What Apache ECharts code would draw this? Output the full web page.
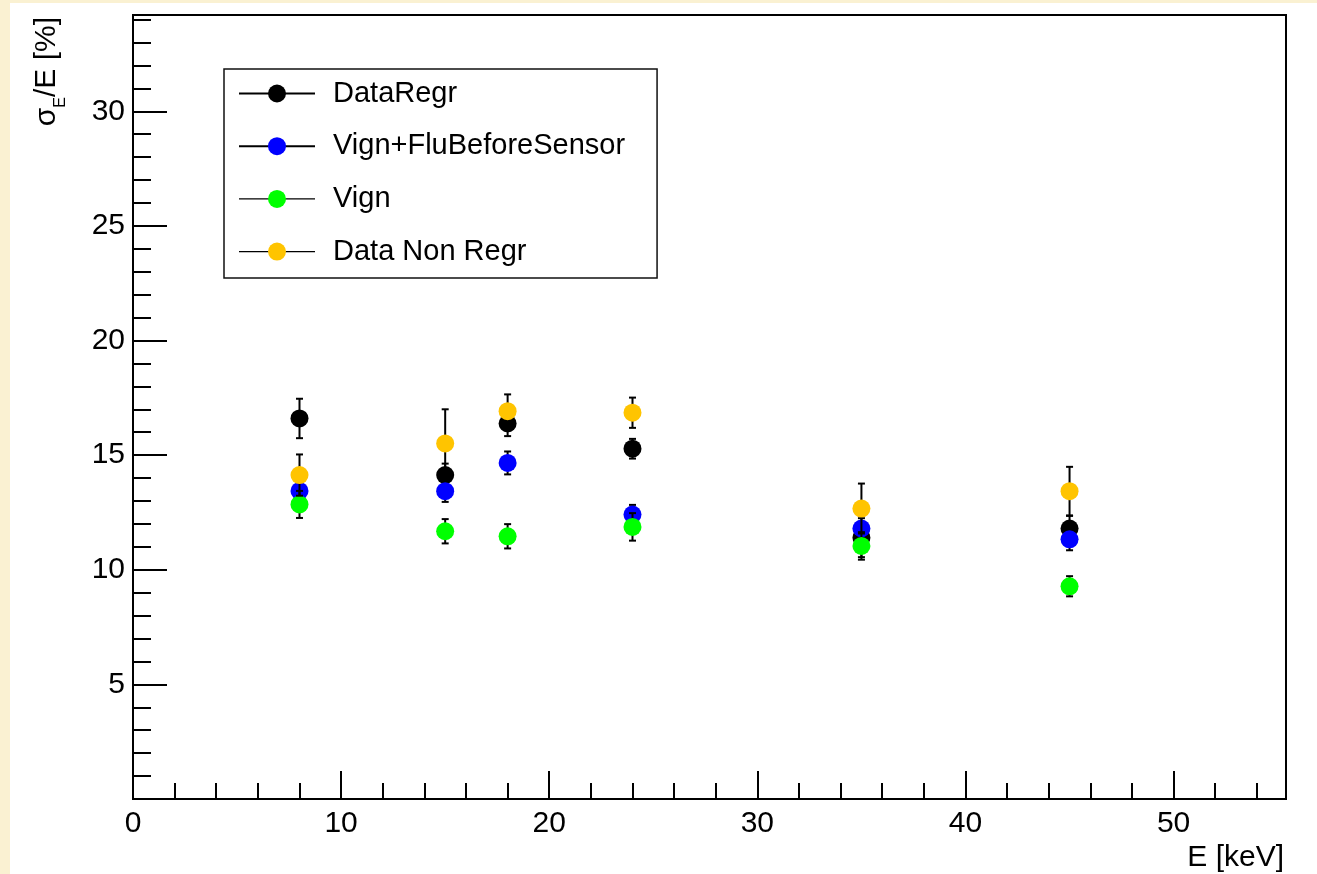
<!DOCTYPE html>
<html>
<head>
<meta charset="utf-8">
<script src="https://cdn.jsdelivr.net/npm/echarts@6/dist/echarts.min.js"></script>
<style>
  html, body { margin: 0; padding: 0; background: #faf1d2; }
  #paper { position: absolute; left: 10px; top: 3px; right: 0; bottom: 0; background: #ffffff; }
  #chart { position: absolute; left: 0; top: 0; width: 1317px; height: 874px; }
</style>
</head>
<body>
<div id="paper"></div>
<div id="chart"></div>
<script>
// ---- data ----
const energy = [8, 15, 18, 24, 35, 45];               // E [keV]
const seriesNames = ['DataRegr', 'Vign+FluBeforeSensor', 'Vign', 'Data Non Regr'];
const dataRegr      = [16.60, 14.13, 16.38, 15.28, 11.40, 11.80];
const dataRegrErr   = [0.86, 0.50, 0.55, 0.43, 0.85, 0.55];
const vignFlu       = [13.44, 13.43, 14.66, 12.41, 11.80, 11.33];
const vignFluErr    = [0.15, 0.47, 0.50, 0.42, 0.12, 0.48];
const vign          = [12.85, 11.68, 11.46, 11.87, 11.04, 9.28];
const vignErr       = [0.59, 0.53, 0.53, 0.60, 0.60, 0.44];
const dataNonRegr   = [14.13, 15.51, 16.92, 16.85, 12.67, 13.43];
const dataNonRegrErr= [0.90, 1.49, 0.73, 0.66, 1.09, 1.06];
const colors = ['#000000', '#0000ff', '#00ff00', '#ffc400'];
const legendLineWidths = [2, 2, 1.3, 1.3];
const xMin = 0, xMax = 55.4, xMajor = 10, xMinor = 2;
const yMin = 0, yMax = 34.2, yMajor = 5, yMinor = 1;
const xTitle = 'E [keV]';

const values = [dataRegr, vignFlu, vign, dataNonRegr];
const errors = [dataRegrErr, vignFluErr, vignErr, dataNonRegrErr];
const FONT = '"Liberation Sans", Arial, Helvetica, sans-serif';

function renderErr(params, api) {
  const x = api.value(0), y = api.value(1), e = api.value(2);
  const t = api.coord([x, y + e]);
  const b = api.coord([x, y - e]);
  const cw = 3.5;
  const st = { stroke: '#000', lineWidth: 2 };
  return {
    type: 'group',
    children: [
      { type: 'line', shape: { x1: t[0], y1: t[1], x2: b[0], y2: b[1] }, style: st },
      { type: 'line', shape: { x1: t[0] - cw, y1: t[1], x2: t[0] + cw, y2: t[1] }, style: st },
      { type: 'line', shape: { x1: b[0] - cw, y1: b[1], x2: b[0] + cw, y2: b[1] }, style: st }
    ]
  };
}

const series = [];
seriesNames.forEach((name, i) => {
  series.push({
    name: name,
    type: 'line',
    data: energy.map((x, k) => [x, values[i][k]]),
    symbol: 'circle',
    symbolSize: 18,
    showSymbol: true,
    showAllSymbol: true,
    lineStyle: { width: 0, opacity: 0 },
    itemStyle: { color: colors[i] },
    emphasis: { disabled: true },
    z: 3 + 2 * i,
    silent: true
  });
});
seriesNames.forEach((name, i) => {
  series.push({
    name: name + ' errors',
    type: 'custom',
    renderItem: renderErr,
    data: energy.map((x, k) => [x, values[i][k], errors[i][k]]),
    z: 2 + 2 * i,
    silent: true,
    clip: false
  });
});

const axisLineStyle = { color: '#000', width: 2 };
const option = {
  animation: false,
  backgroundColor: 'transparent',
  textStyle: { fontFamily: FONT },
  grid: {
    left: 133, top: 15, right: 31, bottom: 75,
    show: true, borderColor: '#000', borderWidth: 2, backgroundColor: 'transparent'
  },
  xAxis: [
    {
      type: 'value', min: xMin, max: xMax, interval: xMajor, position: 'bottom',
      axisLine: { show: true, lineStyle: axisLineStyle },
      axisTick: { show: true, inside: true, length: 28, lineStyle: { color: '#000', width: 2 } },
      axisLabel: { show: true, fontSize: 30, color: '#000', margin: 10, fontFamily: FONT, showMaxLabel: false },
      splitLine: { show: false }
    },
    {
      type: 'value', min: xMin, max: xMax, interval: xMinor, position: 'bottom',
      axisLine: { show: false },
      axisTick: { show: true, inside: true, length: 16, lineStyle: { color: '#000', width: 2 } },
      axisLabel: { show: false },
      splitLine: { show: false }
    }
  ],
  yAxis: [
    {
      type: 'value', min: yMin, max: yMax, interval: yMajor, position: 'left',
      axisLine: { show: true, lineStyle: axisLineStyle },
      axisTick: { show: true, inside: true, length: 34, lineStyle: { color: '#000', width: 2 } },
      axisLabel: { show: true, fontSize: 30, color: '#000', margin: 8, fontFamily: FONT, showMaxLabel: false, showMinLabel: false },
      splitLine: { show: false }
    },
    {
      type: 'value', min: yMin, max: yMax, interval: yMinor, position: 'left',
      axisLine: { show: false },
      axisTick: { show: true, inside: true, length: 18, lineStyle: { color: '#000', width: 2 } },
      axisLabel: { show: false },
      splitLine: { show: false }
    }
  ],
  legend: {
    orient: 'vertical',
    left: 224, top: 69,
    padding: [10, 32, 12, 14],
    itemWidth: 76, itemHeight: 22.5, itemGap: 23.7,
    backgroundColor: '#fff', borderColor: '#111', borderWidth: 1.5, borderRadius: 0,
    selectedMode: false,
    textStyle: { fontSize: 29, color: '#000', fontFamily: FONT, lineHeight: 28, padding: [0, 0, 0, 13] },
    data: seriesNames.map((n, i) => ({
      name: n,
      lineStyle: { color: '#000', width: legendLineWidths[i], opacity: 1, type: 'solid' }
    }))
  },
  graphic: [
    {
      type: 'text', x: 49, y: 17, rotation: Math.PI / 2, silent: true,
      style: {
        text: '{a|σ}{b|E}{a|/E [%]}',
        align: 'right', verticalAlign: 'middle', fill: '#000',
        rich: {
          a: { fontSize: 30, fontFamily: FONT, lineHeight: 34, verticalAlign: 'top', fill: '#000', color: '#000' },
          b: { fontSize: 16, fontFamily: FONT, lineHeight: 16, padding: [21, 0, 0, 0], verticalAlign: 'top', fill: '#000', color: '#000' }
        }
      }
    },
    {
      type: 'text', x: 1284, y: 873, silent: true,
      style: { text: xTitle, align: 'right', verticalAlign: 'bottom', fontSize: 30, fontFamily: FONT, fill: '#000' }
    }
  ],
  series: series
};

const chart = echarts.init(document.getElementById('chart'), null, { renderer: 'canvas', width: 1317, height: 874 });
chart.setOption(option);
</script>
</body>
</html>
